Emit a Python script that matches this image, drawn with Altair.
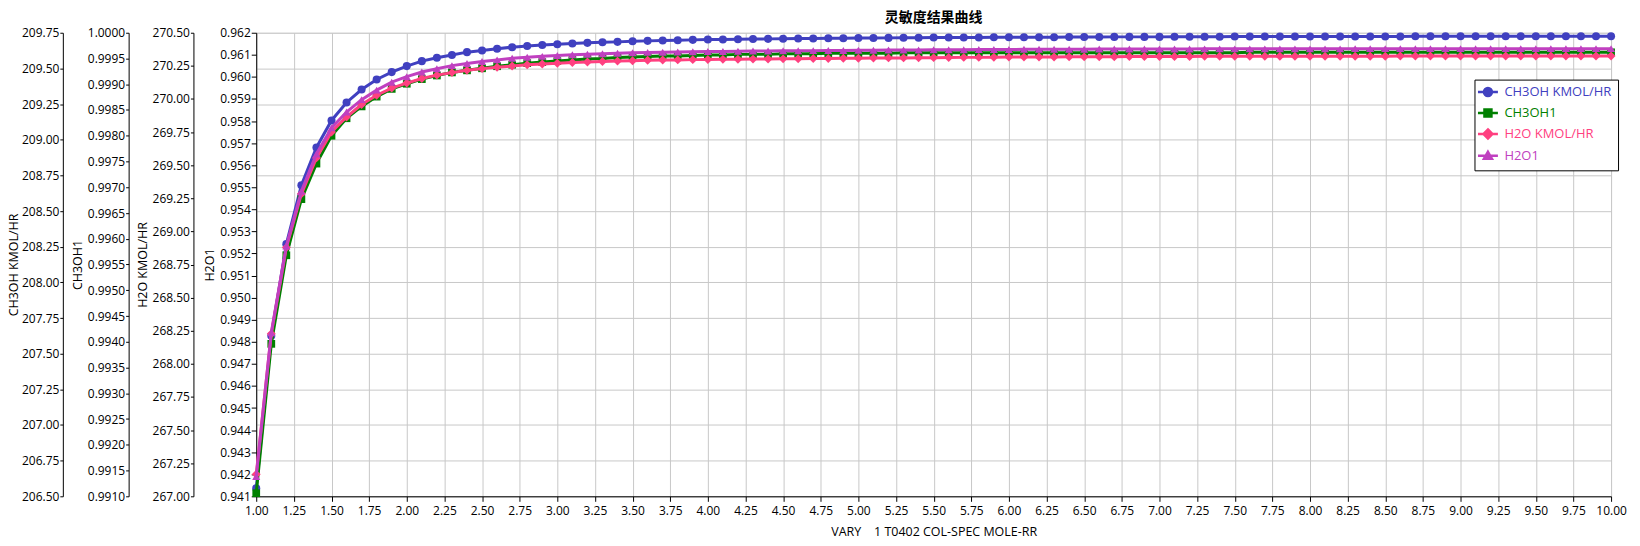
import altair as alt
import pandas as pd

FONT = "Open Sans"
CJK_FONT = "Noto Sans CJK SC"

X = [1.0, 1.1, 1.2, 1.3, 1.4, 1.5, 1.6, 1.7, 1.8, 1.9,
     2.0, 2.1, 2.2, 2.3, 2.4, 2.5, 2.6, 2.7, 2.8, 2.9,
     3.0, 3.1, 3.2, 3.3, 3.4, 3.5, 3.6, 3.7, 3.8, 3.9,
     4.0, 4.1, 4.2, 4.3, 4.4, 4.5, 4.6, 4.7, 4.8, 4.9,
     5.0, 5.1, 5.2, 5.3, 5.4, 5.5, 5.6, 5.7, 5.8, 5.9,
     6.0, 6.1, 6.2, 6.3, 6.4, 6.5, 6.6, 6.7, 6.8, 6.9,
     7.0, 7.1, 7.2, 7.3, 7.4, 7.5, 7.6, 7.7, 7.8, 7.9,
     8.0, 8.1, 8.2, 8.3, 8.4, 8.5, 8.6, 8.7, 8.8, 8.9,
     9.0, 9.1, 9.2, 9.3, 9.4, 9.5, 9.6, 9.7, 9.8, 9.9,
     10.0]

CH3OH_KMOL = [206.556, 207.625, 208.268, 208.681, 208.946, 209.135, 209.261, 209.352, 209.422, 209.474,
              209.516, 209.551, 209.575, 209.594, 209.614, 209.626, 209.638, 209.649, 209.657, 209.664,
              209.670, 209.674, 209.679, 209.683, 209.686, 209.690, 209.693, 209.695, 209.698, 209.700,
              209.702, 209.703, 209.705, 209.706, 209.707, 209.708, 209.709, 209.710, 209.711, 209.712,
              209.713, 209.713, 209.714, 209.715, 209.715, 209.716, 209.716, 209.717, 209.717, 209.718,
              209.718, 209.719, 209.719, 209.719, 209.720, 209.720, 209.720, 209.721, 209.721, 209.721,
              209.721, 209.722, 209.722, 209.722, 209.722, 209.723, 209.723, 209.723, 209.723, 209.723,
              209.724, 209.724, 209.724, 209.724, 209.724, 209.724, 209.724, 209.725, 209.725, 209.725,
              209.725, 209.725, 209.725, 209.725, 209.725, 209.726, 209.726, 209.726, 209.726, 209.726,
              209.726]

CH3OH1 = [0.99106, 0.99396, 0.99568, 0.99677, 0.99746, 0.99800, 0.99834, 0.99857, 0.99876, 0.99891,
          0.99901, 0.99910, 0.99917, 0.99923, 0.99927, 0.99931, 0.99935, 0.99938, 0.99941, 0.99943,
          0.99945, 0.99947, 0.99949, 0.99950, 0.99952, 0.99953, 0.99954, 0.99955, 0.99955, 0.99956,
          0.99957, 0.99957, 0.99958, 0.99958, 0.99958, 0.99959, 0.99959, 0.99959, 0.99960, 0.99960,
          0.99960, 0.99960, 0.99960, 0.99961, 0.99961, 0.99961, 0.99961, 0.99961, 0.99961, 0.99961,
          0.99961, 0.99961, 0.99961, 0.99961, 0.99961, 0.99961, 0.99961, 0.99961, 0.99961, 0.99961,
          0.99961, 0.99961, 0.99961, 0.99961, 0.99961, 0.99961, 0.99962, 0.99962, 0.99962, 0.99962,
          0.99962, 0.99962, 0.99962, 0.99962, 0.99962, 0.99962, 0.99962, 0.99962, 0.99962, 0.99962,
          0.99962, 0.99962, 0.99962, 0.99962, 0.99962, 0.99962, 0.99962, 0.99962, 0.99962, 0.99962,
          0.99962]

H2O_KMOL = [267.166, 268.227, 268.878, 269.284, 269.555, 269.751, 269.864, 269.958, 270.028, 270.082,
            270.120, 270.154, 270.180, 270.199, 270.216, 270.229, 270.240, 270.249, 270.258, 270.264,
            270.270, 270.275, 270.279, 270.283, 270.286, 270.289, 270.292, 270.294, 270.295, 270.297,
            270.298, 270.299, 270.300, 270.301, 270.302, 270.303, 270.304, 270.305, 270.306, 270.307,
            270.308, 270.309, 270.310, 270.310, 270.311, 270.312, 270.313, 270.314, 270.314, 270.315,
            270.316, 270.316, 270.317, 270.317, 270.318, 270.318, 270.319, 270.319, 270.320, 270.320,
            270.321, 270.321, 270.321, 270.322, 270.322, 270.322, 270.322, 270.322, 270.323, 270.323,
            270.323, 270.323, 270.323, 270.323, 270.323, 270.323, 270.324, 270.324, 270.324, 270.324,
            270.324, 270.324, 270.324, 270.324, 270.324, 270.324, 270.324, 270.324, 270.324, 270.324,
            270.324]

H2O1 = [0.94190, 0.94841, 0.95234, 0.95482, 0.95651, 0.95769, 0.95841, 0.95897, 0.95940, 0.95976,
        0.96001, 0.96022, 0.96037, 0.96051, 0.96061, 0.96070, 0.96077, 0.96084, 0.96089, 0.96093,
        0.96097, 0.96100, 0.96103, 0.96105, 0.96107, 0.96109, 0.96111, 0.96112, 0.96113, 0.96114,
        0.96115, 0.96115, 0.96116, 0.96117, 0.96117, 0.96118, 0.96118, 0.96119, 0.96120, 0.96120,
        0.96121, 0.96121, 0.96122, 0.96122, 0.96122, 0.96123, 0.96123, 0.96123, 0.96124, 0.96124,
        0.96124, 0.96125, 0.96125, 0.96125, 0.96125, 0.96125, 0.96126, 0.96126, 0.96126, 0.96126,
        0.96126, 0.96126, 0.96126, 0.96127, 0.96127, 0.96127, 0.96127, 0.96127, 0.96127, 0.96127,
        0.96127, 0.96127, 0.96127, 0.96128, 0.96128, 0.96128, 0.96128, 0.96128, 0.96128, 0.96128,
        0.96128, 0.96128, 0.96128, 0.96128, 0.96128, 0.96128, 0.96128, 0.96128, 0.96128, 0.96128,
        0.96128]

X_TICKS = [1.00, 1.25, 1.50, 1.75, 2.00, 2.25, 2.50, 2.75, 3.00, 3.25, 3.50, 3.75,
           4.00, 4.25, 4.50, 4.75, 5.00, 5.25, 5.50, 5.75, 6.00, 6.25, 6.50, 6.75,
           7.00, 7.25, 7.50, 7.75, 8.00, 8.25, 8.50, 8.75, 9.00, 9.25, 9.50, 9.75, 10.00]
Y1_TICKS = [206.50, 206.75, 207.00, 207.25, 207.50, 207.75, 208.00, 208.25, 208.50,
            208.75, 209.00, 209.25, 209.50, 209.75]
Y2_TICKS = [0.9910, 0.9915, 0.9920, 0.9925, 0.9930, 0.9935, 0.9940, 0.9945, 0.9950, 0.9955,
            0.9960, 0.9965, 0.9970, 0.9975, 0.9980, 0.9985, 0.9990, 0.9995, 1.0000]
Y3_TICKS = [267.00, 267.25, 267.50, 267.75, 268.00, 268.25, 268.50, 268.75, 269.00,
            269.25, 269.50, 269.75, 270.00, 270.25, 270.50]
Y4_TICKS = [0.941, 0.942, 0.943, 0.944, 0.945, 0.946, 0.947, 0.948, 0.949, 0.950, 0.951,
            0.952, 0.953, 0.954, 0.955, 0.956, 0.957, 0.958, 0.959, 0.960, 0.961, 0.962]

SERIES = ["CH3OH KMOL/HR", "CH3OH1", "H2O KMOL/HR", "H2O1"]
COLORS = ["#4040c0", "#008000", "#ff4080", "#c040c0"]
SHAPES = ["circle", "square", "diamond", "triangle-up"]
LEGEND_PATHS = [
    "M-2,0H2M-0.8,0A0.8,0.8 0 1,0 0.8,0A0.8,0.8 0 1,0 -0.8,0Z",
    "M-2,0H2M-0.7,-0.7H0.7V0.7H-0.7Z",
    "M-2,0H2M0,-0.9L0.9,0L0,0.9L-0.9,0Z",
    "M-2,0H2M0,-0.8L0.8,0.6H-0.8Z",
]

values_by_series = [CH3OH_KMOL, CH3OH1, H2O_KMOL, H2O1]
rows = []
for name, vals in zip(SERIES, values_by_series):
    for xv, v in zip(X, vals):
        rows.append({"x": xv, "series": name, "value": v})
df = pd.DataFrame(rows)

PLOT_W = 1359
PLOT_H = 465

x_enc = alt.X(
    "x:Q",
    scale=alt.Scale(domain=[1, 10], nice=False, zero=False),
    axis=alt.Axis(
        values=X_TICKS, format=".2f", title="VARY\u00a0\u00a0\u00a0\u00a01 T0402 COL-SPEC MOLE-RR",
        grid=True, gridColor="#c8c8c8", gridWidth=1, domainColor="black", tickColor="black",
        tickSize=5, labelPadding=4.5, labelColor="black", labelFont=FONT, labelFontSize=12,
        titleFont=FONT, titleFontSize=12.5, titleFontWeight="normal", titleColor="black",
        titlePadding=8.5, labelOverlap=False, labelFlush=False,
    ),
)


def series_layer(idx, domain, ticks, fmt, offset, title_x, grid, size, tick_size):
    name = SERIES[idx]
    color = COLORS[idx]
    base = alt.Chart(df).transform_filter(alt.datum.series == name)
    y = alt.Y(
        "value:Q",
        scale=alt.Scale(domain=domain, nice=False, zero=False),
        axis=alt.Axis(
            orient="left", offset=offset, values=ticks, format=fmt, title=name,
            titleX=title_x, titleY=PLOT_H / 2, titleAlign="center", titleBaseline="bottom",
            grid=grid, gridColor="#c8c8c8", gridWidth=1,
            domainColor="black", tickColor="black", tickSize=tick_size, labelPadding=1,
            labelColor="black", labelFont=FONT, labelFontSize=12, labelOverlap=False,
            titleFont=FONT, titleFontSize=12.5, titleFontWeight="normal", titleColor="black",
        ),
    )
    line = base.mark_line(color=color, strokeWidth=3).encode(x=x_enc, y=y)
    pts = base.mark_point(shape=SHAPES[idx], filled=True, size=size, color=color, opacity=1).encode(x=x_enc, y=y)
    return alt.layer(line, pts)


blue = series_layer(0, [206.5, 209.75], Y1_TICKS, ".2f", 194, -42, True, 65, 3)
green = series_layer(1, [0.991, 1.0], Y2_TICKS, ".4f", 128, -44, False, 60, 3)
pink = series_layer(2, [267.0, 270.5], Y3_TICKS, ".2f", 63, -44, False, 80, 3)
purple = series_layer(3, [0.941, 0.962], Y4_TICKS, ".3f", 0, -40, False, 65, 5)

label_expr = (
    "datum.value === 'CH3OH KMOL/HR' ? '#4040c0' : datum.value === 'CH3OH1' ? '#008000' : "
    "datum.value === 'H2O KMOL/HR' ? '#ff4080' : '#c040c0'"
)
leg = alt.Legend(
    title=None, orient="none", legendX=1222, legendY=47, fillColor="white", strokeColor="black",
    padding=6, labelFont=FONT, labelFontSize=13, labelColor={"expr": label_expr},
    symbolSize=100, symbolStrokeWidth=2.5, symbolOffset=1, labelOffset=10, rowPadding=3,
)
legend_layer = alt.Chart(df).transform_filter("false").mark_point(
    filled=True, size=100, strokeWidth=2.5, opacity=1
).encode(
    color=alt.Color("series:N", scale=alt.Scale(domain=SERIES, range=COLORS), legend=leg),
    stroke=alt.Stroke("series:N", scale=alt.Scale(domain=SERIES, range=COLORS), legend=leg),
    shape=alt.Shape("series:N", scale=alt.Scale(domain=SERIES, range=LEGEND_PATHS), legend=leg),
)

chart = alt.layer(blue, green, pink, purple, legend_layer).resolve_scale(
    y="independent"
).properties(
    width=PLOT_W,
    height=PLOT_H,
    title=alt.Title("灵敏度结果曲线", fontSize=14, fontWeight="bold", font=CJK_FONT, anchor="middle",
                    offset=2, color="black"),
    padding={"left": 0, "top": 2, "right": 5, "bottom": 0},
).configure_view(stroke=None).configure(background="white")

chart.save("out.html", embed_options={"renderer": "svg", "actions": False})
